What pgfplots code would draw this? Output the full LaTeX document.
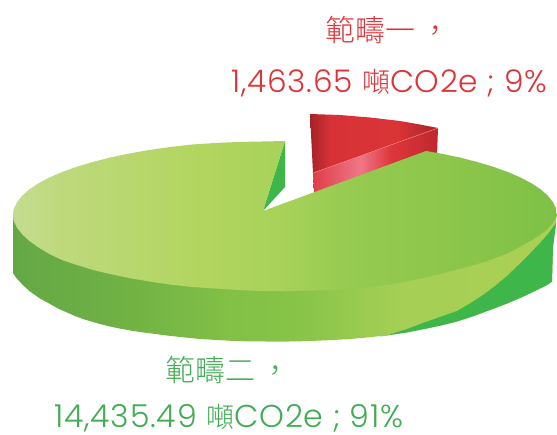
\documentclass[border=0pt]{standalone}
\usepackage{fontspec}
\usepackage{pgfplots}
\pgfplotsset{compat=1.18}
\setmainfont{Poppins Light}[LetterSpace=2.5]
\newfontfamily\cjk{Noto Sans CJK TC Light}
\definecolor{txtred}{RGB}{222,52,56}
\definecolor{txtgreen}{RGB}{66,172,84}
\definecolor{darkg}{RGB}{62,182,74}
\pgfdeclarehorizontalshading{topg}{100bp}{rgb(0bp)=(.765,.863,.569);rgb(25bp)=(.765,.863,.569);rgb(29.3bp)=(.745,.851,.49);rgb(42.2bp)=(.698,.835,.373);rgb(49.5bp)=(.659,.824,.353);rgb(56bp)=(.588,.792,.314);rgb(65.2bp)=(.549,.776,.294);rgb(75bp)=(.49,.757,.275);rgb(100bp)=(.49,.757,.275)}
\pgfdeclarehorizontalshading{wallg}{100bp}{rgb(0bp)=(.392,.659,.275);rgb(25bp)=(.392,.659,.275);rgb(35.8bp)=(.443,.698,.267);rgb(45bp)=(.51,.753,.275);rgb(51.4bp)=(.529,.769,.282);rgb(60.6bp)=(.647,.812,.333);rgb(75bp)=(.667,.816,.333);rgb(100bp)=(.667,.816,.333)}
\pgfdeclarehorizontalshading{redtop}{100bp}{rgb(0bp)=(.647,.137,.157);rgb(25bp)=(.647,.137,.157);rgb(33bp)=(.843,.196,.216);rgb(59bp)=(.855,.204,.216);rgb(75bp)=(.667,.137,.157);rgb(100bp)=(.667,.137,.157)}
\pgfdeclarehorizontalshading{redside}{100bp}{rgb(0bp)=(.871,.243,.282);rgb(25bp)=(.871,.243,.282);rgb(44bp)=(.941,.463,.529);rgb(56bp)=(.871,.216,.235);rgb(75bp)=(.745,.157,.176);rgb(100bp)=(.745,.157,.176)}
\begin{document}
\begin{tikzpicture}
\begin{axis}[width=557pt,height=434pt,scale only axis,xmin=0,xmax=557,ymin=0,ymax=434,y dir=reverse,hide axis,clip=false]
\path (axis cs:0,0) rectangle (axis cs:557,434);
% red slice side
\addplot[draw=none,shade,shading=redside] coordinates {(313,173)(438,128)(437,156)(314,194)};
% red slice top
\addplot[draw=none,shade,shading=redtop] coordinates {(310,114)(340,115)(370,117.5)(400,121)(420,124.5)(438,128)(313,173)};
\addplot[color=white!55!red,line width=0.5pt,opacity=.8] coordinates {(313,173)(438,128)};
% green wall
\addplot[draw=none,shade,shading=wallg] coordinates {(13,215)(13,273)(16,277.5)(20,282)(25,287)(30,291.5)(35,295)(40,298.5)(50,304)(58,308.5)(67,312.5)(75,316)(83,319)(92,321.7)(100,324)(108,326)(117,328)(125,329.5)(133,331)(150,333.3)(167,335.5)(183,337.3)(200,339)(217,340)(233,340.9)(250,341.4)(283,341.6)(300,341.3)(317,340.7)(333,340)(350,339)(370,337.2)(390,335)(407,332.4)(423,329.3)(440,325.7)(457,321.5)(473,316.3)(490,310)(507,303.6)(523,296.7)(535,291)(547,285)(552,281.7)(553,247)(556,225)(557,215)};
% dark green area on the right of the wall
\addplot[draw=none,fill=darkg] coordinates {(556,223)(553,247)(552,281.7)(547,285)(535,291)(523,296.7)(507,303.6)(490,310)(473,316.3)(457,321.5)(440,325.7)(423,329.3)(407,332.4)(390,335)(380,336.5)(390,334.5)(407,329)(423,323)(440,317)(457,311)(470,303.5)(483,295)(495,286)(507,276)(518,265.5)(530,253.5)(540,243)(548,234)};
% inner cut
\addplot[draw=none,fill=darkg] coordinates {(285,141)(285,187)(263,211)};
% green top
\addplot[draw=none,shade,shading=topg] coordinates {(263,211)(426,151)(441,153.6)(459.8,157.5)(477.3,162)(493.4,166.8)(507.8,172)(520.6,177.5)(531.5,183.3)(540.6,189.3)(547.7,195.6)(552.9,202)(556,208.5)(557,215)
(556,218)(552,224)(547,229.5)(540,235)(532,240)(523,245)(515,249.5)(507,253.5)(490,260)(474,265)(457,269.5)(440,274)(423,278)(407,281.5)(390,284.5)(370,287)(350,288.8)(330,290)(309,290.7)(285,291)
(261,291)(238,290)(215,288.5)(192,287)(170,284.5)(149,281.5)(129,278)(110,274)(93,270)(77,265)(62,260)(49.4,254)(38.5,247.5)(29.4,241)(22.3,234.4)(17.1,228)(14,221.5)(13,215)
(14,208.5)(17.1,202)(22.3,195.6)(29.4,189.3)(38.5,183.3)(49.4,177.5)(62.2,172)(76.6,166.8)(92.7,162)(110.2,157.5)(129,153.6)(149,150)(170,147)(192,144.5)(214.6,143)(237.8,142)(261.3,141.5)(285,141)};
\node[anchor=west,inner sep=0,text=txtred,font=\fontsize{30}{32}\selectfont\cjk] at (axis cs:325,30) {範疇一\kern5pt，};
\node[anchor=base west,inner sep=0,text=txtred,font=\fontsize{31.2}{32}\selectfont] at (axis cs:231,92) {1,463.65 {\cjk\fontsize{28}{32}\selectfont 噸}CO2e ; 9\%};
\node[anchor=west,inner sep=0,text=txtgreen,font=\fontsize{30}{32}\selectfont\cjk] at (axis cs:165,370) {範疇二\kern5pt，};
\node[anchor=base west,inner sep=0,text=txtgreen,font=\fontsize{31.6}{32}\selectfont] at (axis cs:54,427.5) {14,435.49 {\cjk\fontsize{28}{32}\selectfont 噸}CO2e ; 91\%};
\end{axis}
\end{tikzpicture}
\end{document}
